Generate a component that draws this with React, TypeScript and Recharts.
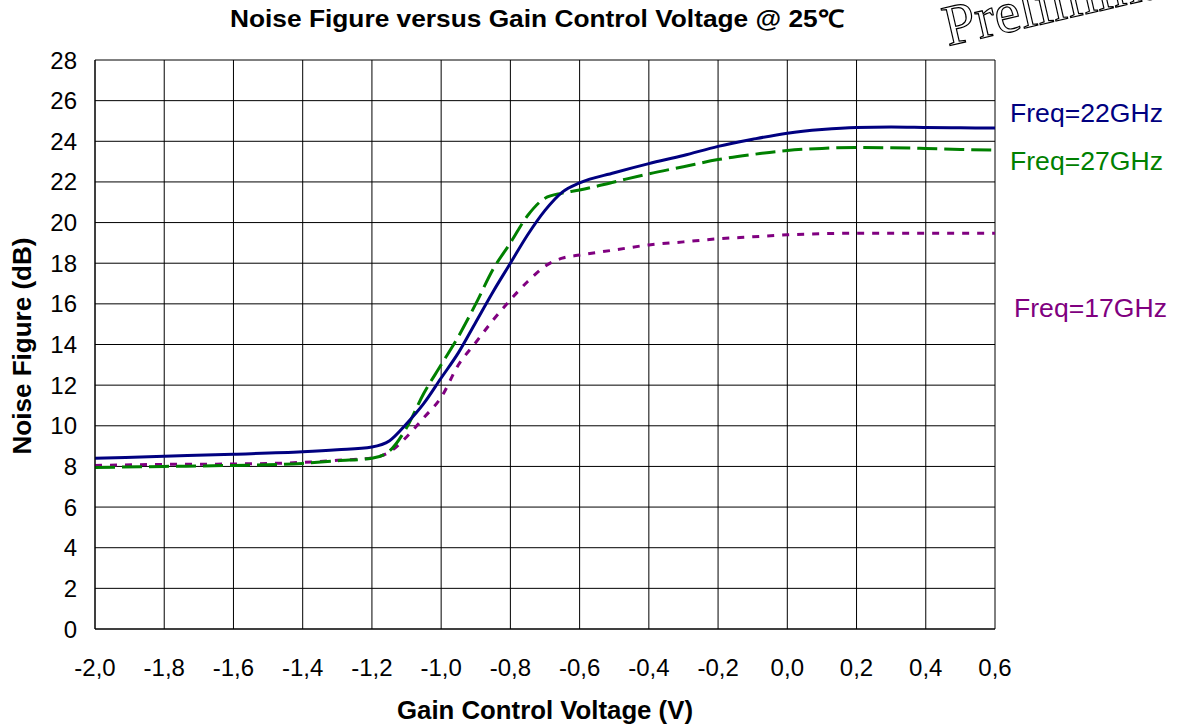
import React from 'react';
import { LineChart, Line, XAxis, YAxis, CartesianGrid } from 'recharts';

const voltages = [-2.0, -1.8, -1.6, -1.4, -1.3, -1.2, -1.15, -1.1, -1.05, -1.0, -0.95, -0.9, -0.85, -0.8, -0.75, -0.7, -0.65, -0.6, -0.5, -0.4, -0.3, -0.2, -0.1, 0.0, 0.1, 0.2, 0.3, 0.4, 0.5, 0.6];
const nf22GHz = [8.4, 8.5, 8.6, 8.72, 8.82, 8.96, 9.25, 10.1, 11.1, 12.35, 13.6, 15.1, 16.6, 18.0, 19.4, 20.6, 21.5, 21.95, 22.45, 22.9, 23.3, 23.75, 24.1, 24.4, 24.58, 24.68, 24.7, 24.68, 24.66, 24.65];
const nf27GHz = [7.95, 8.0, 8.05, 8.15, 8.28, 8.4, 8.75, 9.9, 11.6, 13.0, 14.4, 16.0, 17.7, 19.0, 20.35, 21.2, 21.45, 21.6, 22.0, 22.4, 22.75, 23.1, 23.35, 23.55, 23.65, 23.7, 23.68, 23.65, 23.6, 23.57];
const nf17GHz = [8.05, 8.1, 8.12, 8.2, 8.3, 8.42, 8.7, 9.45, 10.4, 11.4, 13.0, 14.1, 15.2, 16.2, 17.1, 17.85, 18.25, 18.4, 18.65, 18.9, 19.05, 19.2, 19.3, 19.4, 19.45, 19.48, 19.48, 19.48, 19.47, 19.47];

const xTicks = [-2.0, -1.8, -1.6, -1.4, -1.2, -1.0, -0.8, -0.6, -0.4, -0.2, 0.0, 0.2, 0.4, 0.6];
const yTicks = [0, 2, 4, 6, 8, 10, 12, 14, 16, 18, 20, 22, 24, 26, 28];

const title = 'Noise Figure versus Gain Control Voltage @ 25℃';
const xTitle = 'Gain Control Voltage (V)';
const yTitle = 'Noise Figure (dB)';
const seriesLabels = ['Freq=22GHz', 'Freq=27GHz', 'Freq=17GHz'];
const watermark = 'Preliminary';

const data = voltages.map((v, i) => ({
  v,
  f22: nf22GHz[i],
  f27: nf27GHz[i],
  f17: nf17GHz[i],
}));

const FONT = '"Liberation Sans", Arial, sans-serif';
const fmt = (v: number) => (Math.abs(v) < 1e-9 ? 0 : v).toFixed(1).replace('.', ',');

export default function App() {
  return (
    <div style={{ position: 'relative', width: 1181, height: 727, background: '#fff' }}>
      <style>{`body{margin:0;background:#fff}`}</style>
      <LineChart
        width={1181}
        height={727}
        data={data}
        margin={{ top: 60, right: 186, bottom: 0, left: 0 }}
      >
        <CartesianGrid stroke="#000" strokeWidth={1} horizontalValues={yTicks} verticalValues={xTicks} />
        <XAxis
          dataKey="v"
          type="number"
          domain={[-2, 0.6]}
          ticks={xTicks}
          tickFormatter={fmt}
          interval={0}
          height={98}
          tickLine={false}
          axisLine={{ stroke: '#000' }}
          tickMargin={24}
          tick={{ fill: '#000', fontSize: 24, fontFamily: FONT }}
          allowDataOverflow
        />
        <YAxis
          type="number"
          domain={[0, 28]}
          ticks={yTicks}
          interval={0}
          width={95}
          tickLine={false}
          axisLine={{ stroke: '#000' }}
          tickMargin={12}
          tick={{ fill: '#000', fontSize: 24, fontFamily: FONT }}
        />
        <Line type="monotone" dataKey="f17" stroke="#800080" strokeWidth={3} strokeDasharray="7 8" dot={false} isAnimationActive={false} />
        <Line type="monotone" dataKey="f27" stroke="#008000" strokeWidth={3} strokeDasharray="20 7" dot={false} isAnimationActive={false} />
        <Line type="monotone" dataKey="f22" stroke="#000080" strokeWidth={3} dot={false} isAnimationActive={false} />
      </LineChart>
      <svg
        width={1181}
        height={727}
        style={{ position: 'absolute', left: 0, top: 0, pointerEvents: 'none' }}
      >
        <text x={537} y={18} textAnchor="middle" dominantBaseline="central" fontFamily={FONT} fontWeight="bold" fontSize={24} fill="#000" textLength={614} lengthAdjust="spacingAndGlyphs">
          {title}
        </text>
        <text x={545} y={710} textAnchor="middle" dominantBaseline="central" fontFamily={FONT} fontWeight="bold" fontSize={25} fill="#000" textLength={296} lengthAdjust="spacingAndGlyphs">
          {xTitle}
        </text>
        <text
          x={22}
          y={346}
          textAnchor="middle"
          dominantBaseline="central"
          fontFamily={FONT}
          fontWeight="bold"
          fontSize={25}
          fill="#000"
          textLength={217}
          lengthAdjust="spacingAndGlyphs"
          transform="rotate(-90 22 346)"
        >
          {yTitle}
        </text>
        <text x={1010} y={113} dominantBaseline="central" fontFamily={FONT} fontSize={25} fill="#000080" textLength={153} lengthAdjust="spacingAndGlyphs">
          {seriesLabels[0]}
        </text>
        <text x={1010} y={161} dominantBaseline="central" fontFamily={FONT} fontSize={25} fill="#008000" textLength={153} lengthAdjust="spacingAndGlyphs">
          {seriesLabels[1]}
        </text>
        <text x={1014} y={308} dominantBaseline="central" fontFamily={FONT} fontSize={25} fill="#800080" textLength={153} lengthAdjust="spacingAndGlyphs">
          {seriesLabels[2]}
        </text>
        <text
          x={948}
          y={46}
          fontFamily='"Liberation Serif", "Times New Roman", serif'
          fontSize={58}
          fill="#fff"
          stroke="#000"
          strokeWidth={1.2}
          transform="rotate(-13 948 46)"
        >
          {watermark}
        </text>
      </svg>
    </div>
  );
}
